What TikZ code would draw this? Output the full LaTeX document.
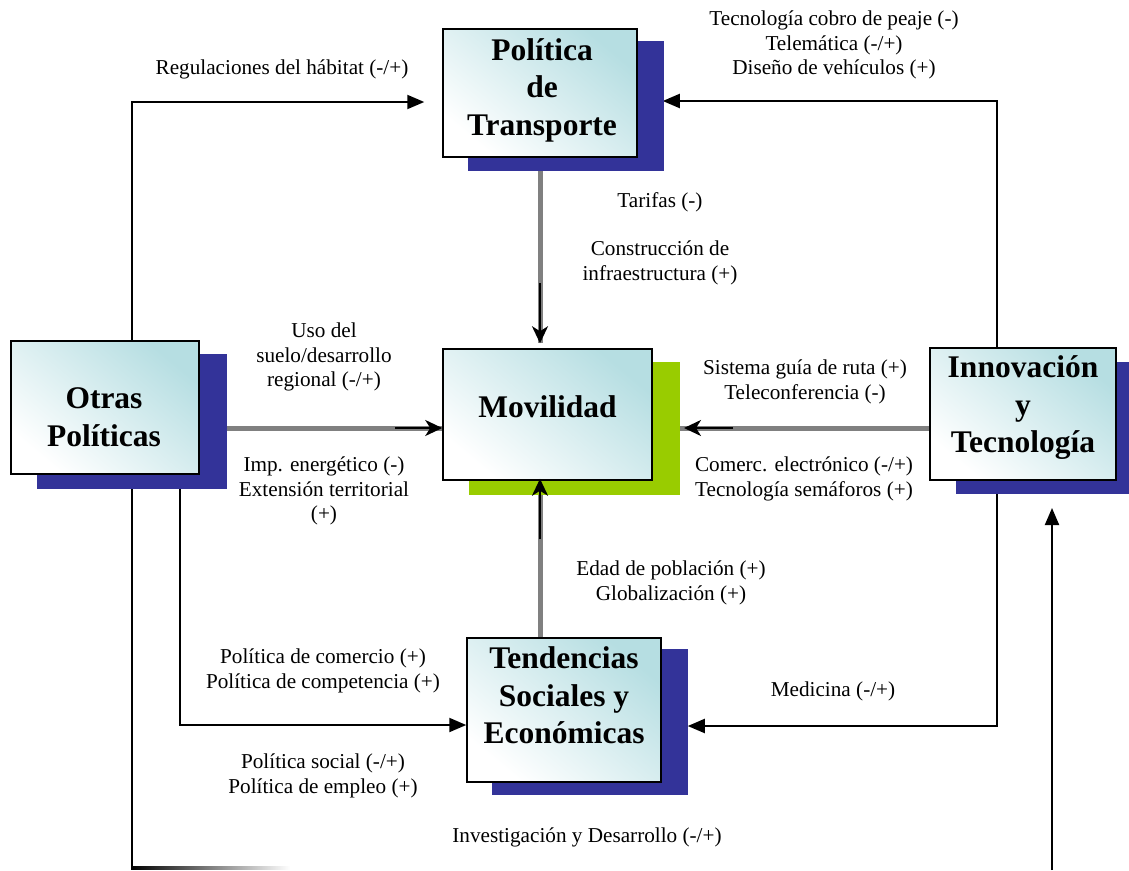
\documentclass[tikz,border=0pt]{standalone}
\usepackage{fontspec}
\setmainfont{Liberation Serif}
\usetikzlibrary{arrows.meta,calc}
\definecolor{shblue}{RGB}{51,51,153}
\definecolor{shgreen}{RGB}{153,204,0}
\definecolor{boxcyan}{RGB}{182,222,226}
\definecolor{lgray}{RGB}{128,128,128}
\pgfdeclarelayer{bg}
\pgfdeclarelayer{shd}
\pgfsetlayers{bg,shd,main}
\tikzset{
 box/.style={draw=black, line width=1.5pt, top color=boxcyan, bottom color=white, shading angle=-40, inner sep=0pt},
 ttl/.style={font=\fontsize{31.5}{37.5}\selectfont\bfseries, align=center, inner sep=0pt},
 lbl/.style={font=\fontsize{21.2}{24.5}\selectfont, align=center, inner sep=0pt},
 conn/.style={draw=black, line width=2pt, -{Triangle[length=17pt,width=14pt]}},
 plainline/.style={draw=black, line width=2pt},
 gline/.style={draw=lgray, line width=5pt},
 barb/.style={draw=black, line width=2.4pt, -{Stealth[length=17pt,width=16pt,inset=5pt]}},
}
\begin{document}
\begin{tikzpicture}[x=1pt,y=-1pt]
\useasboundingbox (0,0) rectangle (1129,870);
% boxes
\node[box, minimum width=194pt, minimum height=128pt] (pt) at (540,93) {};
\node[box, minimum width=188pt, minimum height=133pt] (op) at (105,407.5) {};
\node[box, minimum width=209pt, minimum height=131pt] (mov) at (547.5,414.5) {};
\node[box, minimum width=186pt, minimum height=132pt] (inn) at (1023,414) {};
\node[box, minimum width=194pt, minimum height=144pt] (ten) at (564,710) {};
% titles
\node[ttl] (ptT) at (542,90.4) {Política\\de\\Transporte};
\node[ttl] (opT) at (104,417.4) {Otras\\Políticas};
\node[ttl] (movT) at (547.5,406.7) {Movilidad};
\node[ttl] (innT) at (1023,408) {Innovación\\y\\Tecnología};
\node[ttl] (tenT) at (564,695.5) {Tendencias\\Sociales y\\Económicas};
% shadows
\coordinate (edge) at (1129,362);
\begin{pgfonlayer}{shd}
\fill[shblue] ($(pt.south west)+(26,13)$) rectangle ($(pt.north east)+(26,13)$);
\fill[shblue] ($(op.south west)+(27,14)$) rectangle ($(op.north east)+(27,14)$);
\fill[shgreen] ($(mov.south west)+(27,14)$) rectangle ($(mov.north east)+(27,14)$);
\fill[shblue] ($(inn.south west)+(27,13)$) rectangle (edge);
\fill[shblue] ($(ten.south west)+(26,12)$) rectangle ($(ten.north east)+(26,12)$);
\end{pgfonlayer}
% coordinates
\coordinate (c1) at (132,102);
\coordinate (c2) at (997,101);
\coordinate (c3) at (540,283);
\coordinate (c4) at (540,539);
\coordinate (c5) at (395,428);
\coordinate (c6) at (733,428);
\coordinate (c6e) at (684,428);
\coordinate (c7) at (180,725);
\coordinate (c8) at (997,726);
\coordinate (c9) at (132,868);
\coordinate (c10) at (1052,870);
\coordinate (c10t) at (1052,508);
\begin{pgfonlayer}{bg}
\fill[white] (0,0) rectangle (1129,870);
\draw[conn, shorten >=18pt] (op.north -| c1) -- (c1) -- (c1 -| pt.west);
\draw[conn, shorten >=25pt] (inn.north -| c2) -- (c2) -- (c2 -| pt.east);
\draw[gline, shorten >=5pt] (c3 |- pt.south) -- (c3 |- mov.north);
\draw[gline] (c4 |- ten.north) -- (c4 |- mov.south);
\draw[gline] (c5 -| op.east) -- (c5 -| mov.west);
\draw[gline] (c6 -| inn.west) -- (c6 -| mov.east);
\draw[conn] (op.south -| c7) -- (c7) -- (c7 -| ten.west);
\draw[conn, shorten >=26pt] (inn.south -| c8) -- (c8) -- (c8 -| ten.east);
\draw[plainline] (op.south -| c9) -- (c9);
\shade[left color=black, right color=white] (131,866.5) rectangle (290,869.5);
\draw[conn] (c10) -- (c10t);
\end{pgfonlayer}
% black arrow parts over gray lines
\draw[barb, shorten >=5pt] (c3) -- (c3 |- mov.north);
\draw[barb, shorten >=-2pt] (c4) -- (c4 |- mov.south);
\draw[barb] (c5) -- (c5 -| mov.west);
\draw[barb] (c6) -- (c6e);
% labels
\node[lbl] (l1) at (282,69) {Regulaciones del hábitat (-/+)};
\node[lbl] (l2) at (834,45) {Tecnología cobro de peaje (-)\\Telemática (-/+)\\Diseño de vehículos (+)};
\node[lbl] (l3) at (660,202) {Tarifas (-)};
\node[lbl] (l4) at (660,263) {Construcción de\\infraestructura (+)};
\node[lbl] (l5) at (324,357) {Uso del\\suelo/desarrollo\\regional (-/+)};
\node[lbl] (l6) at (805,382) {Sistema guía de ruta (+)\\Teleconferencia (-)};
\node[lbl] (l7) at (324,491) {Imp. energético (-)\\Extensión territorial\\(+)};
\node[lbl] (l8) at (804,479) {Comerc. electrónico (-/+)\\Tecnología semáforos (+)};
\node[lbl] (l9) at (671,583) {Edad de población (+)\\Globalización (+)};
\node[lbl] (l10) at (323,671) {Política de comercio (+)\\Política de competencia (+)};
\node[lbl] (l11) at (833,691) {Medicina (-/+)};
\node[lbl] (l12) at (323,776) {Política social (-/+)\\Política de empleo (+)};
\node[lbl] (l13) at (587,837) {Investigación y Desarrollo (-/+)};
\end{tikzpicture}
\end{document}
